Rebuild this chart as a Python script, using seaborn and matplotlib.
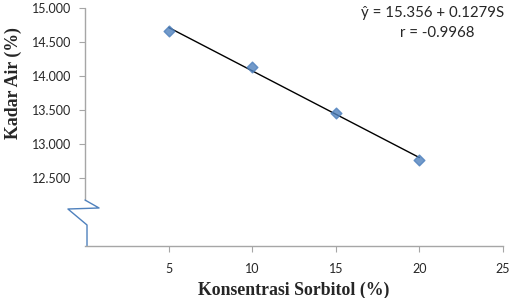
import matplotlib
matplotlib.use('Agg')
import matplotlib.pyplot as plt
import seaborn as sns
import pandas as pd
from matplotlib.ticker import FuncFormatter

# data
konsentrasi = [5, 10, 15, 20]
kadar_air = [14.666, 14.137, 13.460, 12.765]
x_ticks = [5, 10, 15, 20, 25]
y_ticks = [12.5, 13.0, 13.5, 14.0, 14.5, 15.0]

df = pd.DataFrame({'Konsentrasi': konsentrasi, 'Kadar': kadar_air})

sns.set_style('white')
plt.rcParams['font.family'] = ['Lato', 'DejaVu Sans']

BIRU = '#4f81bd'
ABU = '#a6a6a6'

fig = plt.figure(figsize=(5.13, 2.98), dpi=100)
ax = fig.add_axes([85 / 513, 52 / 298, 418 / 513, 238 / 298])

sns.regplot(data=df, x='Konsentrasi', y='Kadar', ax=ax, ci=None,
            marker='D', scatter_kws={'s': 30, 'color': BIRU, 'zorder': 3},
            line_kws={'color': 'black', 'lw': 1, 'zorder': 2})

ax.set_xlim(0, 25)
ax.set_ylim(11.5, 15.0)
ax.set_xticks(x_ticks)
ax.set_yticks(y_ticks)
ax.yaxis.set_major_formatter(FuncFormatter(lambda v, p: f'{v:.3f}'))
ax.tick_params(axis='both', length=4, width=0.8, color=ABU, labelsize=9, pad=6)
ax.tick_params(axis='y', direction='out', left=True)
ax.tick_params(axis='x', direction='out', bottom=True, pad=8)

for s in ['left', 'top', 'right']:
    ax.spines[s].set_visible(False)
ax.spines['bottom'].set_color(ABU)
ax.spines['bottom'].set_linewidth(1)

# y-axis with a break
ax.plot([0, 0], [15.0, 12.176], color=ABU, lw=1, clip_on=False)
ax.plot([0, 0.84, -1.02, 0.12, 0.12], [12.176, 12.059, 12.044, 11.809, 11.5],
        color=BIRU, lw=1, clip_on=False)

ax.set_xlabel('Konsentrasi Sorbitol (%)', family='Liberation Serif',
              fontweight='bold', fontsize=12.8, labelpad=5)
ax.set_ylabel('Kadar Air (%)', family='Liberation Serif',
              fontweight='bold', fontsize=12.8, labelpad=6)
ax.yaxis.set_label_coords(-0.151, 0.685)

fig.text(433 / 513, 1 - 13 / 298, 'ŷ = 15.356 + 0.1279S', ha='center', va='center', fontsize=10.8)
fig.text(437 / 513, 1 - 33 / 298, 'r = -0.9968', ha='center', va='center', fontsize=10.8)

fig.savefig('out.png', dpi=100)
